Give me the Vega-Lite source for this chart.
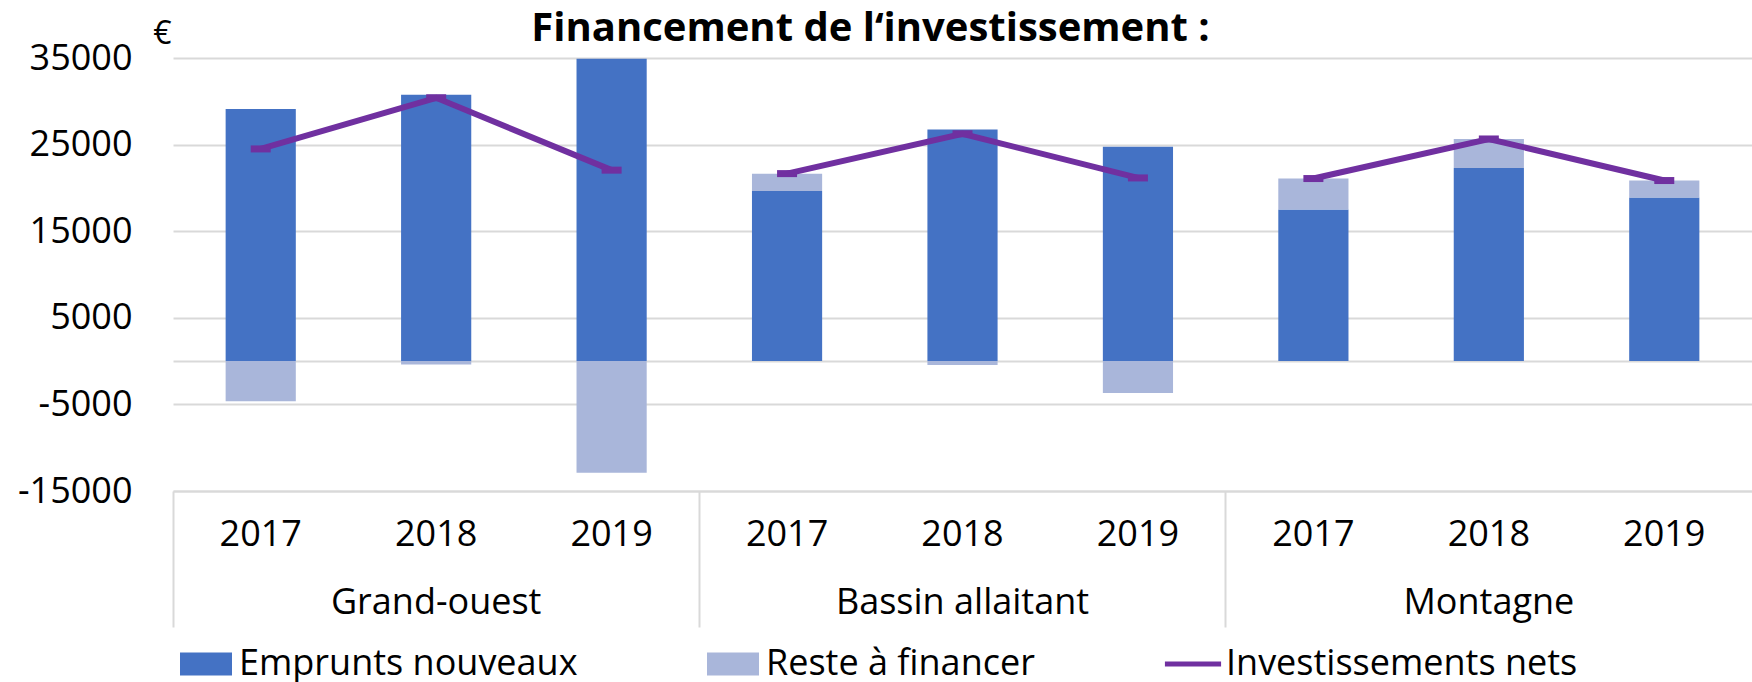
{
  "$schema": "https://vega.github.io/schema/vega-lite/v6.json",
  "autosize": {"type": "none"},
  "width": 1579,
  "height": 433,
  "padding": {"left": 173, "top": 58, "right": 0, "bottom": 191},
  "config": {"font": "Open Sans", "view": {"stroke": null}},
  "title": {"text": "Financement de l‘investissement :", "fontSize": 40, "fontWeight": "bold", "color": "#000000", "anchor": "middle", "frame": "group", "dx": -92, "offset": -64, "baseline": "alphabetic"},
  "data": {"values": [
    {"region": "Grand-ouest", "year": "2017", "serie": "Emprunts nouveaux", "value": 29100},
    {"region": "Grand-ouest", "year": "2018", "serie": "Emprunts nouveaux", "value": 30750},
    {"region": "Grand-ouest", "year": "2019", "serie": "Emprunts nouveaux", "value": 34900},
    {"region": "Bassin allaitant", "year": "2017", "serie": "Emprunts nouveaux", "value": 19650},
    {"region": "Bassin allaitant", "year": "2018", "serie": "Emprunts nouveaux", "value": 26750},
    {"region": "Bassin allaitant", "year": "2019", "serie": "Emprunts nouveaux", "value": 24750},
    {"region": "Montagne", "year": "2017", "serie": "Emprunts nouveaux", "value": 17500},
    {"region": "Montagne", "year": "2018", "serie": "Emprunts nouveaux", "value": 22300},
    {"region": "Montagne", "year": "2019", "serie": "Emprunts nouveaux", "value": 18900},
    {"region": "Grand-ouest", "year": "2017", "serie": "Reste à financer", "value": -4650},
    {"region": "Grand-ouest", "year": "2018", "serie": "Reste à financer", "value": -380},
    {"region": "Grand-ouest", "year": "2019", "serie": "Reste à financer", "value": -12880},
    {"region": "Bassin allaitant", "year": "2017", "serie": "Reste à financer", "value": 1970},
    {"region": "Bassin allaitant", "year": "2018", "serie": "Reste à financer", "value": -460},
    {"region": "Bassin allaitant", "year": "2019", "serie": "Reste à financer", "value": -3680},
    {"region": "Montagne", "year": "2017", "serie": "Reste à financer", "value": 3580},
    {"region": "Montagne", "year": "2018", "serie": "Reste à financer", "value": 3350},
    {"region": "Montagne", "year": "2019", "serie": "Reste à financer", "value": 1950},
    {"region": "Grand-ouest", "year": "2017", "serie": "Investissements nets", "value": 24500},
    {"region": "Grand-ouest", "year": "2018", "serie": "Investissements nets", "value": 30400},
    {"region": "Grand-ouest", "year": "2019", "serie": "Investissements nets", "value": 22050},
    {"region": "Bassin allaitant", "year": "2017", "serie": "Investissements nets", "value": 21650},
    {"region": "Bassin allaitant", "year": "2018", "serie": "Investissements nets", "value": 26250},
    {"region": "Bassin allaitant", "year": "2019", "serie": "Investissements nets", "value": 21150},
    {"region": "Montagne", "year": "2017", "serie": "Investissements nets", "value": 21080},
    {"region": "Montagne", "year": "2018", "serie": "Investissements nets", "value": 25650},
    {"region": "Montagne", "year": "2019", "serie": "Investissements nets", "value": 20850}
  ]},
  "transform": [{"calculate": "datum.region + '|' + datum.year", "as": "key"}],
  "layer": [
    {
      "encoding": {
        "x": {
          "field": "key", "type": "nominal", "title": null,
          "scale": {"domain": ["Grand-ouest|2017", "Grand-ouest|2018", "Grand-ouest|2019", "Bassin allaitant|2017", "Bassin allaitant|2018", "Bassin allaitant|2019", "Montagne|2017", "Montagne|2018", "Montagne|2019"], "paddingInner": 0, "paddingOuter": 0},
          "axis": {"orient": "bottom", "labelExpr": "split(datum.value, '|')[1]", "labelFontSize": 36, "labelColor": "#000000", "labelPadding": 26, "labelAngle": 0, "labelOverlap": false, "ticks": false, "grid": false, "domainColor": "#D9D9D9", "domainWidth": 2}
        },
        "y": {
          "field": "value", "type": "quantitative",
          "scale": {"domain": [-15000, 35000], "nice": false, "zero": false},
          "axis": {"values": [-15000, -5000, 0, 5000, 15000, 25000, 35000], "labelExpr": "datum.value === 0 ? '' : '' + datum.value", "grid": true, "gridColor": "#D9D9D9", "gridWidth": 2, "domain": false, "ticks": false, "labelFontSize": 36, "labelColor": "#000000", "labelPadding": 41, "title": "€", "titleAngle": 0, "titleX": -11, "titleY": -25, "titleFontSize": 32, "titleFontWeight": "normal", "titleAlign": "center", "titleBaseline": "middle", "titleColor": "#000000"}
        }
      },
      "layer": [
        {
          "transform": [{"filter": "datum.serie !== 'Investissements nets'"}],
          "mark": {"type": "bar", "width": {"band": 0.4}},
          "encoding": {
            "y": {"field": "value", "type": "quantitative", "stack": "zero"},
            "order": {"field": "serie", "sort": "ascending"},
            "color": {
              "field": "serie", "type": "nominal",
              "scale": {"domain": ["Emprunts nouveaux", "Reste à financer", "Investissements nets"], "range": ["#4472C4", "#A9B6DA", "#7030A0"]},
              "legend": {"orient": "none", "legendX": 7, "legendY": 580, "direction": "horizontal", "title": null, "labelFontSize": 36, "labelColor": "#000000", "symbolSize": 2704, "labelOffset": 7, "columnPadding": 129, "labelLimit": 1000,
                "encode": {"symbols": {"update": {
                  "shape": {"signal": "datum.value === 'Investissements nets' ? 'M-1.08,-0.1H1.08V0.1H-1.08Z' : 'M-1,-0.44H1V0.44H-1Z'"},
                  "fill": {"scale": "color", "field": "value"},
                  "strokeWidth": {"value": 0},
                  "opacity": {"value": 1}
                }}}
              }
            }
          }
        },
        {
          "transform": [{"filter": "datum.serie === 'Investissements nets'"}],
          "mark": {"type": "line", "strokeWidth": 6},
          "encoding": {
            "y": {"field": "value", "type": "quantitative"},
            "detail": {"field": "region"},
            "color": {
              "field": "serie", "type": "nominal",
              "legend": {"orient": "none", "legendX": 7, "legendY": 580, "direction": "horizontal", "title": null, "labelFontSize": 36, "labelColor": "#000000", "symbolSize": 2704, "labelOffset": 7, "columnPadding": 129, "labelLimit": 1000,
                "encode": {"symbols": {"update": {
                  "shape": {"signal": "datum.value === 'Investissements nets' ? 'M-1.08,-0.1H1.08V0.1H-1.08Z' : 'M-1,-0.44H1V0.44H-1Z'"},
                  "fill": {"scale": "color", "field": "value"},
                  "strokeWidth": {"value": 0},
                  "opacity": {"value": 1}
                }}}
              }
            }
          }
        },
        {
          "transform": [{"filter": "datum.serie === 'Investissements nets'"}],
          "mark": {"type": "tick", "orient": "horizontal", "size": 20, "thickness": 7, "color": "#7030A0", "opacity": 1},
          "encoding": {
            "y": {"field": "value", "type": "quantitative"}
          }
        }
      ]
    },
    {
      "transform": [{"filter": "datum.serie === 'Investissements nets'"}],
      "mark": {"type": "rule", "opacity": 0},
      "encoding": {
        "x": {
          "field": "region", "type": "nominal", "title": null,
          "scale": {"domain": ["Grand-ouest", "Bassin allaitant", "Montagne"], "paddingInner": 0, "paddingOuter": 0},
          "axis": {"orient": "bottom", "domain": false, "ticks": true, "tickSize": 136, "tickColor": "#D9D9D9", "tickWidth": 2, "bandPosition": 0, "labelFontSize": 36, "labelColor": "#000000", "labelPadding": -42, "labelAngle": 0, "labelLimit": 1000, "grid": false}
        }
      }
    }
  ],
  "resolve": {"scale": {"x": "independent"}, "axis": {"x": "independent"}}
}
